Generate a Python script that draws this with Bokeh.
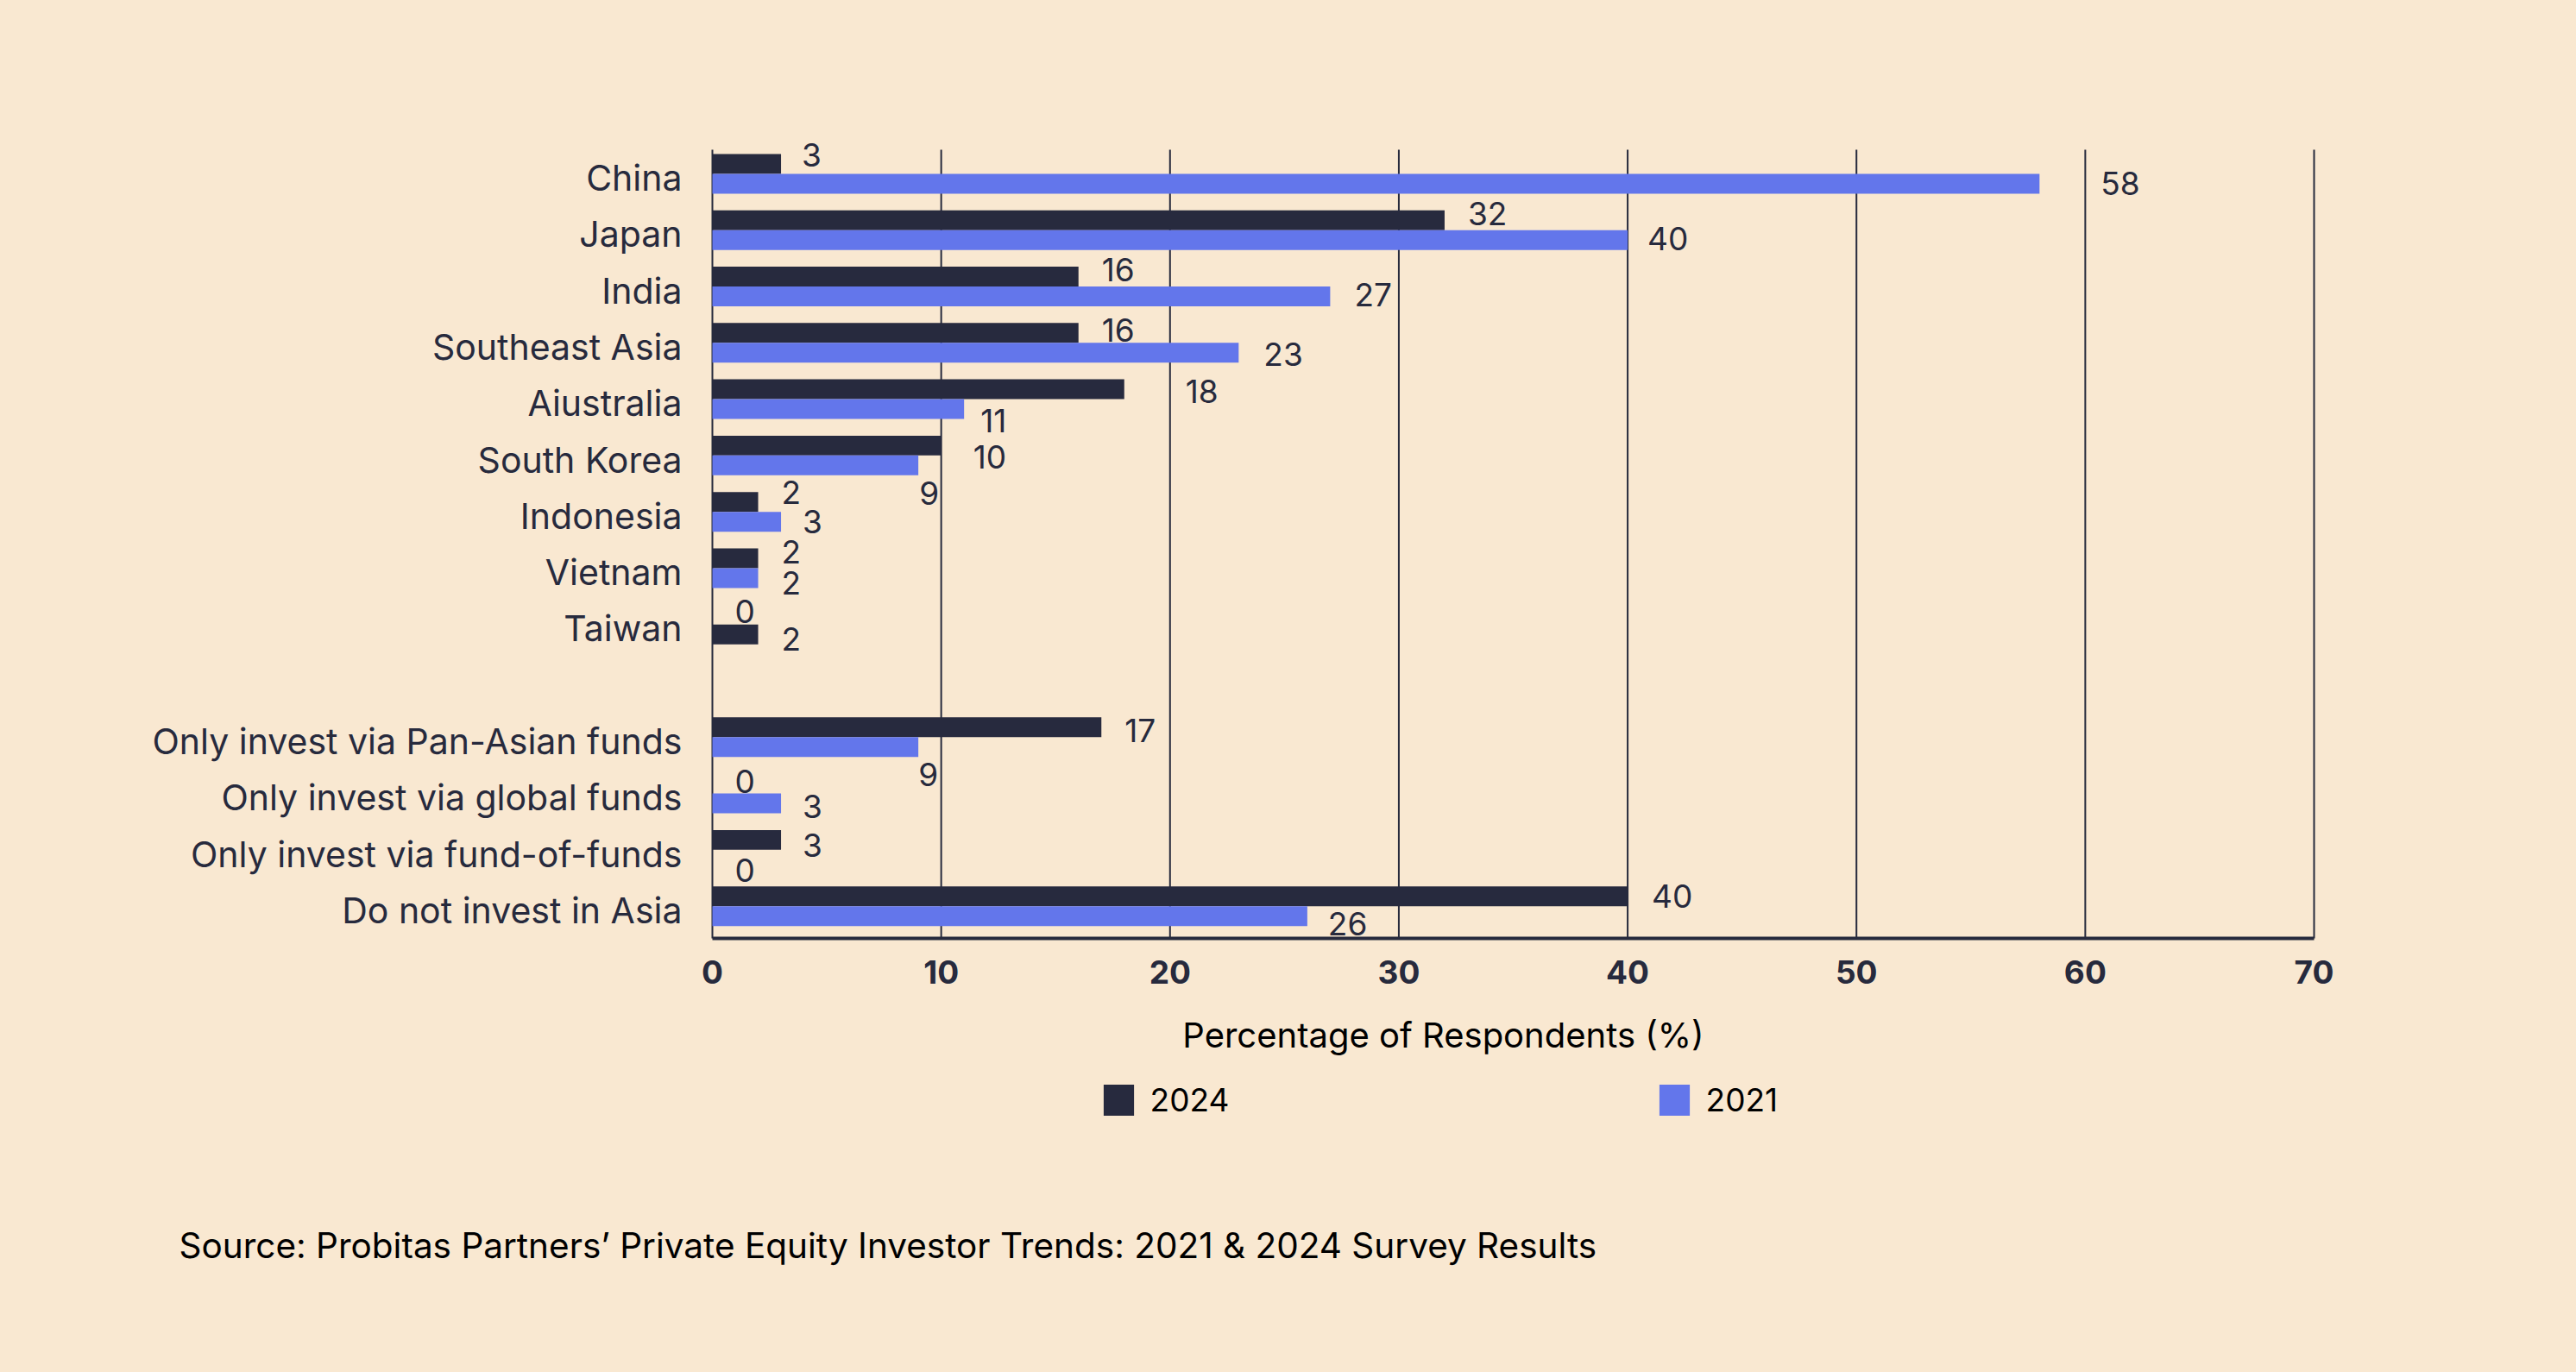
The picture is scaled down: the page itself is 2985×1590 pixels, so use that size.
from bokeh.plotting import figure
from bokeh.models import Range1d, FixedTicker, Label, Legend, LegendItem, ColumnDataSource
from bokeh.core.properties import value
from bokeh.embed import file_html
from bokeh.resources import INLINE

# ---------------- data ----------------
categories = ["China", "Japan", "India", "Southeast Asia", "Aiustralia", "South Korea",
              "Indonesia", "Vietnam", "Taiwan", "Only invest via Pan-Asian funds",
              "Only invest via global funds", "Only invest via fund-of-funds",
              "Do not invest in Asia"]
values_2024 = [3, 32, 16, 16, 18, 10, 2, 2, 0, 17, 0, 3, 40]
values_2021 = [58, 40, 27, 23, 11, 9, 3, 2, 2, 9, 3, 0, 26]
series_names = ["2024", "2021"]
x_ticks = [0, 10, 20, 30, 40, 50, 60, 70]
x_title = "Percentage of Respondents (%)"
source_note = "Source: Probitas Partners\u2019 Private Equity Investor Trends: 2021 & 2024 Survey Results"

# ---------------- style ----------------
BG = "#F9E8D1"
DARK = "#272A3E"
BLUE = "#6376EB"
NAVY = "#272A3D"
FONT = "Inter"

W, H = 2969, 1574
FL, FR, FT, FB = 825, 2681, 173, 1087   # plot-area edges (px)
X_MAX = 70
N_SLOTS = 14
GAP_AFTER = "Taiwan"

# label nudges in pixels (collision-avoidance as in original)
dx24 = [24, 27, 27, 27, 71, 37, 27, 27, 26, 27, 26, 25, 28]
dy24 = [-10, -8, -8, -3, 2, 13, -11, -7, -4, 4, -3, 6, 0]
dx21 = [71, 23, 28, 29, 19, 1, 25, 27, 27, 0, 25, 26, 24]
dy21 = [0, -2, -2, 2, 13, 32, 0, 6, 5, 32, 3, 12, 9]

slots = []
k = 0
for c in categories:
    slots.append(k)
    k += 1
    if c == GAP_AFTER:
        k += 1

px_x = (FR - FL) / X_MAX
px_s = (FB - FT) / N_SLOTS


def fx(sx):
    return (sx - FL) / px_x


def fy(sy):
    return -0.5 + (sy - FT) / px_s


BAR_H = 0.352
y24 = [s - 0.5 + 0.252 for s in slots]
y21 = [s - 0.5 + 0.604 for s in slots]
col21 = [DARK if c == GAP_AFTER else BLUE for c in categories]

src24 = ColumnDataSource(dict(y=y24, v=values_2024, t=[str(v) for v in values_2024],
                              dx=dx24, dy=dy24))
src21 = ColumnDataSource(dict(y=y21, v=values_2021, t=[str(v) for v in values_2021],
                              dx=dx21, dy=dy21, c=col21))

p = figure(width=W, height=H, output_backend="svg", toolbar_location=None,
           x_range=Range1d(fx(0), fx(W)), y_range=Range1d(fy(H), fy(0)),
           min_border=0)
p.background_fill_color = BG
p.border_fill_color = BG
p.outline_line_color = None
p.xgrid.visible = False
p.ygrid.visible = False

# vertical grid lines at the x ticks, spanning the plot area only
p.segment(x0=x_ticks, x1=x_ticks, y0=[fy(FT)] * len(x_ticks), y1=[fy(FB)] * len(x_ticks),
          line_color=NAVY, line_width=2)

r24 = p.hbar(y="y", right="v", left=0, height=BAR_H, source=src24,
             fill_color=DARK, line_color=None)
r21 = p.hbar(y="y", right="v", left=0, height=BAR_H, source=src21,
             fill_color="c", line_color=None)

for src in (src24, src21):
    p.text(x="v", y="y", text="t", source=src, x_offset="dx", y_offset="dy",
           text_align="left", text_baseline="middle",
           text_font=value(FONT), text_font_size="37px", text_color=NAVY)

# axes (drawn at fixed locations inside the canvas)
p.xaxis.fixed_location = fy(FB)
p.xaxis.bounds = (0, X_MAX)
p.xaxis.ticker = FixedTicker(ticks=x_ticks)
p.xaxis.major_label_text_font = FONT
p.xaxis.major_label_text_font_size = "37px"
p.xaxis.major_label_text_font_style = "bold"
p.xaxis.major_label_text_color = NAVY
p.xaxis.major_tick_line_color = None
p.xaxis.minor_tick_line_color = None
p.xaxis.axis_line_color = NAVY
p.xaxis.axis_line_width = 4
p.xaxis.major_label_standoff = 19

p.yaxis.fixed_location = 0
p.yaxis.bounds = (fy(FB), fy(FT))
p.yaxis.ticker = FixedTicker(ticks=slots)
p.yaxis.major_label_overrides = {s: c for s, c in zip(slots, categories)}
p.yaxis.major_label_text_font = FONT
p.yaxis.major_label_text_font_size = "41px"
p.yaxis.major_label_text_color = NAVY
p.yaxis.major_tick_line_color = None
p.yaxis.minor_tick_line_color = None
p.yaxis.axis_line_color = None
p.yaxis.major_label_standoff = 29

# axis title
p.add_layout(Label(x=fx(1672), y=fy(1199), text=x_title, text_align="center",
                   text_baseline="middle", text_font=FONT, text_font_size="40px",
                   text_color="black"))
# source note
p.add_layout(Label(x=fx(207), y=fy(1443), text=source_note, text_align="left",
                   text_baseline="middle", text_font=FONT, text_font_size="40.5px",
                   text_color="black"))

# legends (one per series); bar legend glyphs are inset 10% per side
GW, GH = 44, 45
for r, name, gx in ((r24, series_names[0], 1278), (r21, series_names[1], 1922)):
    leg = Legend(items=[LegendItem(label=name, renderers=[r], index=0)],
                 location=(gx - 4.4, H - 1296.5),
                 glyph_width=GW, glyph_height=GH, label_standoff=15,
                 label_height=GH,
                 label_text_font=FONT, label_text_font_size="37px",
                 label_text_color="black", background_fill_alpha=0,
                 border_line_color=None, padding=0, margin=0, spacing=0)
    p.add_layout(leg, "center")

html = file_html(p, INLINE)
html = html.replace("</head>", "<style>html,body{background:%s;}</style></head>" % BG)
open("out.html", "w").write(html)
